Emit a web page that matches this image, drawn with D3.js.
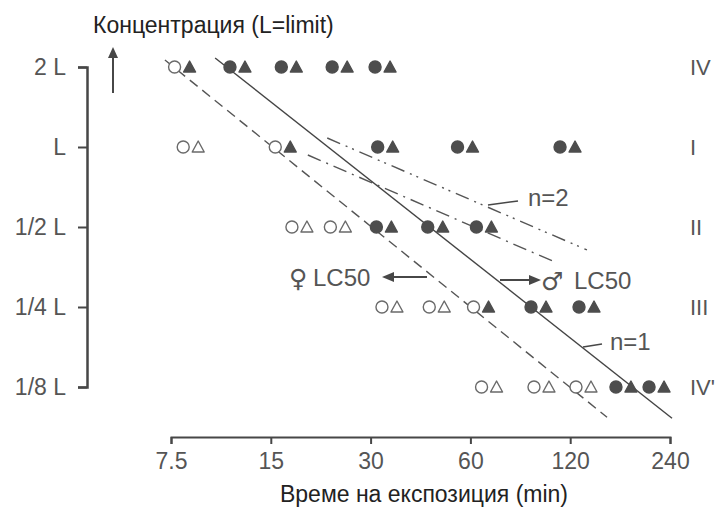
<!DOCTYPE html>
<html>
<head>
<meta charset="utf-8">
<script src="https://cdn.jsdelivr.net/npm/d3@7"></script>
<style>
  body { margin: 0; background: #fff; }
  text { font-family: "Liberation Sans", Arial, Helvetica, sans-serif; }
  text.sym { font-family: "DejaVu Sans", sans-serif; }
</style>
</head>
<body>
<div id="chart"></div>
<script>
// data
var concLevels = [2, 1, 0.5, 0.25, 0.125];
var concLabels = ["2 L", "L", "1/2 L", "1/4 L", "1/8 L"];
var groupLabels = ["IV", "I", "II", "III", "IV'"];
var timeTicks = [7.5, 15, 30, 60, 120, 240];

// exposure times (min) of each circle/triangle pair, one row per concentration
var times2L = [8.1, 11.9, 17, 24.2, 32.6];
var timesL = [8.6, 16.3, 33.2, 57.8, 117.8];
var timesHalfL = [18.3, 23.9, 32.9, 47, 65.9];
var timesQuarterL = [34.2, 47.5, 64.6, 96.3, 134.4];
var timesEighthL = [68.3, 98.3, 131.6, 173.7, 218.6];
var allTimes = [times2L, timesL, timesHalfL, timesQuarterL, timesEighthL];

// 1 = filled (dead), 0 = open; circles = females, triangles = males
var circleDead = [[0,1,1,1,1],[0,0,1,1,1],[0,0,1,1,1],[0,0,0,1,1],[0,0,0,1,1]];
var triangleDead = [[1,1,1,1,1],[0,1,1,1,1],[0,0,1,1,1],[0,0,1,1,1],[0,0,0,1,1]];

// fitted lines: [time, concentration] end points
var femaleLC50 = [[7.19, 2.125], [155, 0.0962]];
var maleLC50 = [[10.19, 2.163], [243.4, 0.0954]];
var n2Upper = [[22.2, 1.081], [134.8, 0.41]];
var n2Lower = [[19.4, 0.933], [108, 0.369]];

// setup
var w = 727;
var h = 510;
var svg = d3.select("#chart").append("svg")
    .attr("width", w)
    .attr("height", h);

var x = d3.scaleLog().base(2).domain([7.5, 240]).range([171, 670]);
var y = d3.scaleLog().base(2).domain([0.125, 2]).range([387, 67]);

var ink = "#474747";
var grey = "#555";

// y axis
var yAxis = svg.append("g")
    .attr("transform", "translate(87,0)")
    .call(d3.axisLeft(y).tickValues(concLevels)
        .tickFormat(function(d, i) { return concLabels[i]; })
        .tickSize(9).tickPadding(12));
yAxis.select(".domain").attr("stroke", ink).attr("stroke-width", 2.5);
yAxis.selectAll(".tick line").attr("stroke", ink).attr("stroke-width", 2);
yAxis.selectAll(".tick text")
    .attr("font-size", 23).attr("fill", grey);

// x axis
var xAxis = svg.append("g")
    .attr("transform", "translate(0,437)")
    .call(d3.axisBottom(x).tickValues(timeTicks)
        .tickFormat(function(d) { return d; })
        .tickSize(7).tickPadding(9));
xAxis.select(".domain").attr("stroke", ink).attr("stroke-width", 2);
xAxis.selectAll(".tick line").attr("stroke", ink).attr("stroke-width", 2);
xAxis.selectAll(".tick text").attr("font-size", 23).attr("fill", grey);

// titles
svg.append("text").attr("x", 93).attr("y", 33)
    .attr("font-size", 23).attr("fill", "#222")
    .text("Концентрация (L=limit)");
svg.append("text").attr("x", 424).attr("y", 502)
    .attr("text-anchor", "middle")
    .attr("font-size", 23).attr("fill", "#222")
    .text("Време на експозиция (min)");

// arrow next to y axis
svg.append("line").attr("x1", 113).attr("y1", 93).attr("x2", 113).attr("y2", 56)
    .attr("stroke", ink).attr("stroke-width", 2);
svg.append("path").attr("d", "M113,47 L108,58 L118,58 Z").attr("fill", ink);

// group labels on the right
svg.append("g").selectAll("text")
    .data(concLevels)
    .enter()
    .append("text")
        .attr("x", 690)
        .attr("y", function(d) { return y(d) + 8; })
        .attr("font-size", 22)
        .attr("fill", grey)
        .text(function(d, i) { return groupLabels[i]; });

// lines
var line = d3.line()
    .x(function(d) { return x(d[0]); })
    .y(function(d) { return y(d[1]); });
var lineDefs = [
    { pts: femaleLC50, dash: "10,6", color: "#555" },
    { pts: maleLC50, dash: null, color: "#444" },
    { pts: n2Upper, dash: "14,6,2,5,2,6", color: "#555" },
    { pts: n2Lower, dash: "14,6,2,6", color: "#555" }
];
svg.append("g").selectAll("path")
    .data(lineDefs)
    .enter()
    .append("path")
        .attr("d", function(d) { return line(d.pts); })
        .attr("fill", "none")
        .attr("stroke", function(d) { return d.color; })
        .attr("stroke-width", 1.4)
        .attr("stroke-dasharray", function(d) { return d.dash; });

// points: one group per pair
var pairs = [];
allTimes.forEach(function(row, r) {
    row.forEach(function(t, k) {
        pairs.push({ t: t, c: concLevels[r], cd: circleDead[r][k], td: triangleDead[r][k] });
    });
});
var pairG = svg.append("g").selectAll("g")
    .data(pairs)
    .enter()
    .append("g")
        .attr("transform", function(d) { return "translate(" + x(d.t) + "," + y(d.c) + ")"; });
pairG.append("circle")
    .attr("cx", -7.5)
    .attr("r", 6)
    .attr("fill", function(d) { return d.cd ? "#4d4d4d" : "#fff"; })
    .attr("stroke", function(d) { return d.cd ? "#4d4d4d" : "#6a6a6a"; })
    .attr("stroke-width", 1.4);
pairG.append("path")
    .attr("d", "M7.5,-6 L13.5,5 L1.5,5 Z")
    .attr("fill", function(d) { return d.td ? "#4d4d4d" : "#fff"; })
    .attr("stroke", function(d) { return d.td ? "#4d4d4d" : "#6a6a6a"; })
    .attr("stroke-width", 1.4)
    .attr("stroke-linejoin", "round");

// annotations
var ann = svg.append("g").attr("fill", grey).attr("font-size", 24);
ann.append("line").attr("x1", 488).attr("y1", 205).attr("x2", 518).attr("y2", 201)
    .attr("stroke", ink).attr("stroke-width", 1.5);
ann.append("text").attr("x", 528).attr("y", 206).text("n=2");
ann.append("line").attr("x1", 583).attr("y1", 347).attr("x2", 602).attr("y2", 344)
    .attr("stroke", ink).attr("stroke-width", 1.5);
ann.append("text").attr("x", 610).attr("y", 350).text("n=1");

// female LC50 label, arrow pointing left
ann.append("text").attr("class", "sym").attr("x", 289).attr("y", 287)
    .attr("font-size", 25).text("♀");
ann.append("text").attr("x", 313).attr("y", 286).text("LC50");
ann.append("line").attr("x1", 427).attr("y1", 277).attr("x2", 392).attr("y2", 277)
    .attr("stroke", ink).attr("stroke-width", 2);
ann.append("path").attr("d", "M382,277 L394,272 L394,282 Z").attr("fill", ink);

// male LC50 label, arrow pointing right
ann.append("line").attr("x1", 500).attr("y1", 280).attr("x2", 530).attr("y2", 280)
    .attr("stroke", ink).attr("stroke-width", 2);
ann.append("path").attr("d", "M541,280 L529,275 L529,285 Z").attr("fill", ink);
ann.append("text").attr("class", "sym").attr("x", 541).attr("y", 290)
    .attr("font-size", 25).text("♂");
ann.append("text").attr("x", 574).attr("y", 289).text("LC50");
</script>
</body>
</html>
